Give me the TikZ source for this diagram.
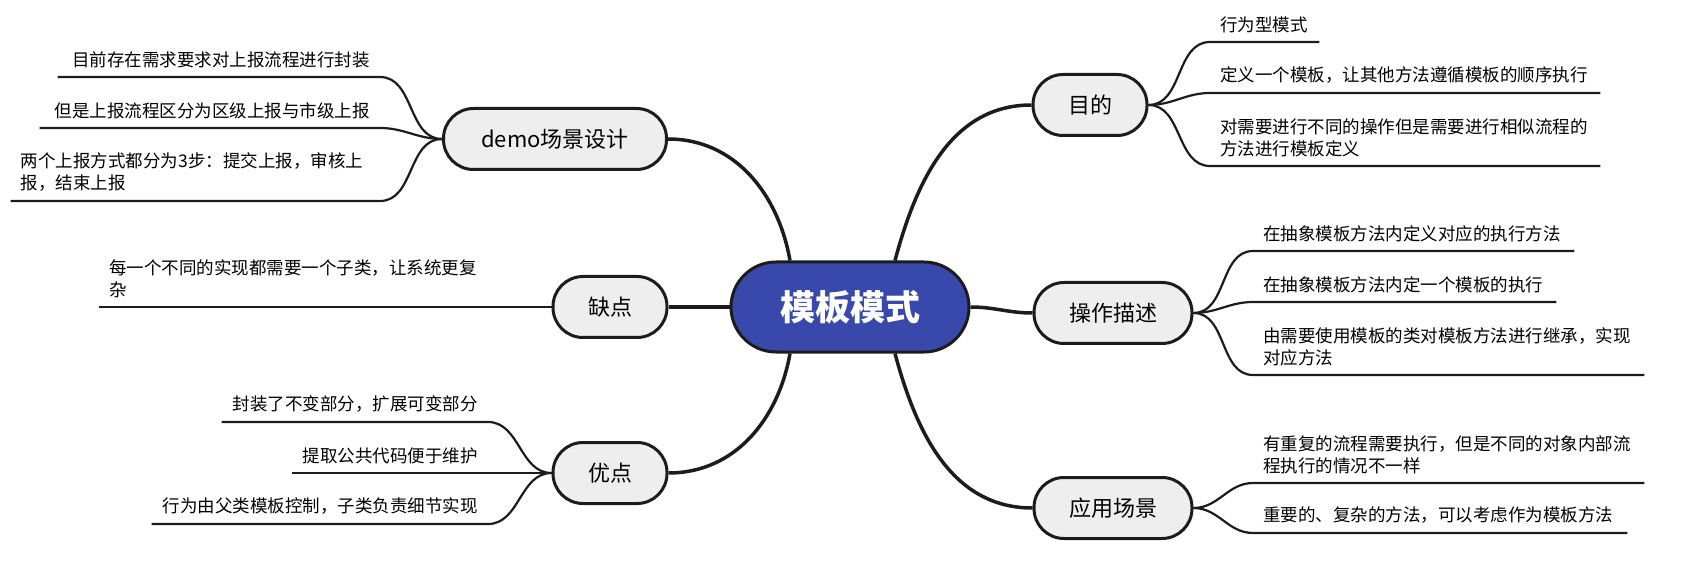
\documentclass[tikz,border=0pt]{standalone}
\usepackage{fontspec}
\setmainfont{Noto Sans CJK SC}
\usetikzlibrary{positioning}
\definecolor{hubblue}{HTML}{3949AB}
\definecolor{pillgray}{HTML}{EEEEEE}
\definecolor{inkline}{HTML}{1C1C1C}

\begin{document}
\begin{tikzpicture}[
	x=1pt, y=1pt,
	limb/.style={line width=3.5pt, draw=inkline},
	twig/.style={line width=2.2pt, draw=inkline}]

\tikzstyle{core} = [
    draw = inkline, line width = 3pt, fill = hubblue,
    rounded corners = 45pt, minimum width = 238pt, minimum height = 90pt,
    text = white, font = \fontsize{35pt}{40pt}\selectfont\bfseries
]
\tikzstyle{branch} = [
    draw = inkline, line width = 3pt, fill = pillgray,
    rounded corners = 30pt, minimum height = 61pt, inner xsep = 35pt,
    font = \fontsize{22pt}{26pt}\selectfont
]
\tikzstyle{leaf} = [
    inner xsep = 10pt, inner ysep = 9pt, align = left,
    font = \fontsize{17.5pt}{22pt}\selectfont
]

\useasboundingbox (0,0) rectangle (1707,560);

\node [core] (hub) at (850,253) {模板模式};

\node [branch] (mudi) at (1090,455) {目的};
\node [branch] (caozuo) at (1113,247) {操作描述};
\node [branch] (yingyong) at (1113,52) {应用场景};
\node [branch, minimum width=223pt] (demo) at (555,421) {demo场景设计};
\node [branch] (quedian) at (610,253) {缺点};
\node [branch] (youdian) at (610,87) {优点};

% right side leaves
\node [leaf, text width=89pt, anchor=south west] (mudi-a) at (1210,518) {行为型模式};
\node [leaf, text width=370pt, anchor=south west] (mudi-b) at (1210,467) {定义一个模板，让其他方法遵循模板的顺序执行};
\node [leaf, text width=370pt, anchor=south west] (mudi-c) at (1210,394) {对需要进行不同的操作但是需要进行相似流程的\\方法进行模板定义};

\node [leaf, text width=301pt, anchor=south west] (caozuo-a) at (1253,309) {在抽象模板方法内定义对应的执行方法};
\node [leaf, text width=283pt, anchor=south west] (caozuo-b) at (1253,258) {在抽象模板方法内定一个模板的执行};
\node [leaf, text width=371pt, anchor=south west] (caozuo-c) at (1253,185) {由需要使用模板的类对模板方法进行继承，实现\\对应方法};

\node [leaf, text width=371pt, anchor=south west] (yingyong-a) at (1253,77) {有重复的流程需要执行，但是不同的对象内部流\\程执行的情况不一样};
\node [leaf, text width=354pt, anchor=south west] (yingyong-b) at (1253,27) {重要的、复杂的方法，可以考虑作为模板方法};

% left side leaves
\node [leaf, text width=302pt, align=right, anchor=south east] (demo-a) at (380,483) {目前存在需求要求对上报流程进行封装};
\node [leaf, text width=320pt, align=right, anchor=south east] (demo-b) at (380,432) {但是上报流程区分为区级上报与市级上报};
\node [leaf, text width=349pt, anchor=south east] (demo-c) at (380,359) {两个上报方式都分为3步：提交上报，审核上\\报，结束上报};

\node [leaf, text width=371pt, anchor=south west] (quedian-a) at (99,253) {每一个不同的实现都需要一个子类，让系统更复\\杂};

\node [leaf, text width=246pt, align=right, anchor=south east] (youdian-a) at (488,138) {封装了不变部分，扩展可变部分};
\node [leaf, text width=176pt, align=right, anchor=south east] (youdian-b) at (488,87) {提取公共代码便于维护};
\node [leaf, text width=316pt, align=right, anchor=south east] (youdian-c) at (488,36) {行为由父类模板控制，子类负责细节实现};

% main branches
\draw [limb] ([xshift=-60pt]hub.north) to[out=100,in=0] (demo.east);
\draw [limb] ([xshift=45pt]hub.north) to[out=75,in=180] (mudi.west);
\draw [limb] (hub.west) -- (quedian.east);
\draw [limb] (hub.east) to[out=0,in=180] (caozuo.west);
\draw [limb] ([xshift=-60pt]hub.south) to[out=-100,in=0] (youdian.east);
\draw [limb] ([xshift=45pt]hub.south) to[out=-75,in=180] (yingyong.west);

% twigs to the leaves
\draw [twig] (mudi.east) to[out=0,in=180] (mudi-a.south west) -- (mudi-a.south east);
\draw [twig] (mudi.east) to[out=0,in=180] (mudi-b.south west) -- (mudi-b.south east);
\draw [twig] (mudi.east) to[out=0,in=180] (mudi-c.south west) -- (mudi-c.south east);

\draw [twig] (caozuo.east) to[out=0,in=180] (caozuo-a.south west) -- (caozuo-a.south east);
\draw [twig] (caozuo.east) to[out=0,in=180] (caozuo-b.south west) -- (caozuo-b.south east);
\draw [twig] (caozuo.east) to[out=0,in=180] (caozuo-c.south west) -- (caozuo-c.south east);

\draw [twig] (yingyong.east) to[out=0,in=180] (yingyong-a.south west) -- (yingyong-a.south east);
\draw [twig] (yingyong.east) to[out=0,in=180] (yingyong-b.south west) -- (yingyong-b.south east);

\draw [twig] (demo.west) to[out=180,in=0] (demo-a.south east) -- (demo-a.south west);
\draw [twig] (demo.west) to[out=180,in=0] (demo-b.south east) -- (demo-b.south west);
\draw [twig] (demo.west) to[out=180,in=0] (demo-c.south east) -- (demo-c.south west);

\draw [twig] (quedian.west) -- (quedian-a.south east) -- (quedian-a.south west);

\draw [twig] (youdian.west) to[out=180,in=0] (youdian-a.south east) -- (youdian-a.south west);
\draw [twig] (youdian.west) to[out=180,in=0] (youdian-b.south east) -- (youdian-b.south west);
\draw [twig] (youdian.west) to[out=180,in=0] (youdian-c.south east) -- (youdian-c.south west);
\end{tikzpicture}
\end{document}
